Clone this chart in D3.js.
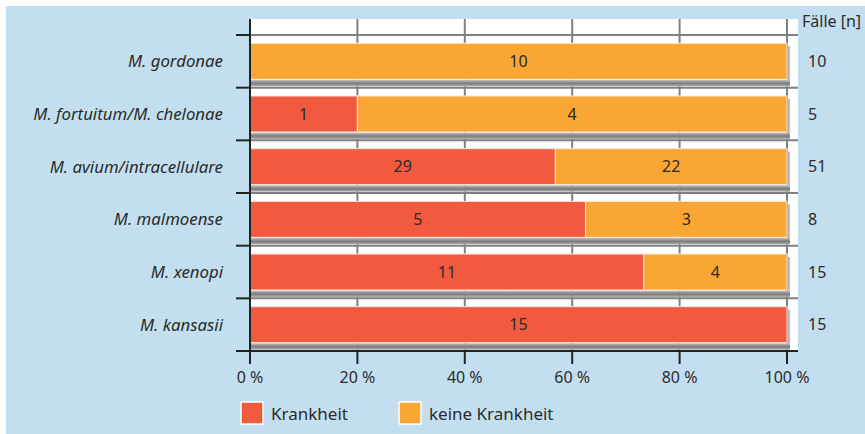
<!DOCTYPE html>
<html>
<head>
<meta charset="utf-8">
<script src="https://cdn.jsdelivr.net/npm/d3@7"></script>
<style>
  body { margin: 0; background: #fff; }
  text { font-family: 'Noto Sans', sans-serif; fill: #2b2b2b; }
  .cat { font-style: italic; font-size: 16.8px; }
  .num { font-size: 16px; }
  .tick-label { font-size: 16px; }
  .legend-label { font-size: 17px; }
</style>
</head>
<body>
<div id="container"></div>
<script>
const w = 865,
  h = 434;

const categories = [
  'M. gordonae',
  'M. fortuitum/M. chelonae',
  'M. avium/intracellulare',
  'M. malmoense',
  'M. xenopi',
  'M. kansasii'
];
const krankheit = [0, 1, 29, 5, 11, 15];
const keineKrankheit = [10, 4, 22, 3, 4, 0];
const faelle = [10, 5, 51, 8, 15, 15];
const xTicks = [0, 20, 40, 60, 80, 100];
const seriesNames = ['Krankheit', 'keine Krankheit'];
const colors = ['#f25a3f', '#f9a633'];

const svg = d3.select('#container').append('svg').attr('width', w).attr('height', h);

// shadow gradients
const defs = svg.append('defs');
const gBottom = defs.append('linearGradient').attr('id', 'shadowBottom')
  .attr('x1', 0).attr('y1', 0).attr('x2', 0).attr('y2', 1);
gBottom.append('stop').attr('offset', 0).attr('stop-color', '#c4c4c4');
gBottom.append('stop').attr('offset', 0.55).attr('stop-color', '#7a7a7a');
gBottom.append('stop').attr('offset', 1).attr('stop-color', '#b0b0b0');
const gRight = defs.append('linearGradient').attr('id', 'shadowRight')
  .attr('x1', 0).attr('y1', 0).attr('x2', 1).attr('y2', 0);
gRight.append('stop').attr('offset', 0).attr('stop-color', '#9a9a9a');
gRight.append('stop').attr('offset', 1).attr('stop-color', '#e0e0e0');

// background panel
svg.append('rect').attr('x', 6).attr('y', 6).attr('width', w - 6).attr('height', h - 6)
  .attr('fill', '#c3dfef');

const x = d3.scaleLinear().domain([0, 100]).range([250, 787]);
const y = d3.scaleBand().domain(categories).range([35, 351])
  .paddingInner(0.3165).paddingOuter(0.158);

// plot area
svg.append('rect').attr('x', 250).attr('y', 19).attr('width', 548).attr('height', 332)
  .attr('fill', '#fff');

// vertical grid lines
svg.append('g').selectAll('line').data(xTicks.slice(1)).enter().append('line')
  .attr('x1', (d) => x(d)).attr('x2', (d) => x(d))
  .attr('y1', 19).attr('y2', 351)
  .attr('stroke', '#808080').attr('stroke-width', 2);

// horizontal boundaries between categories
const bounds = d3.range(categories.length + 1).map((i) => y.range()[0] + i * y.step());
svg.append('g').selectAll('line').data(bounds.slice(0, -1)).enter().append('line')
  .attr('x1', 250).attr('x2', 798)
  .attr('y1', (d) => d).attr('y2', (d) => d)
  .attr('stroke', '#808080').attr('stroke-width', 2);
svg.append('g').selectAll('line').data(bounds).enter().append('line')
  .attr('x1', 236).attr('x2', 250)
  .attr('y1', (d) => d).attr('y2', (d) => d)
  .attr('stroke', '#222').attr('stroke-width', 2);

// bars
const rows = categories.map((c, i) => {
  const total = krankheit[i] + keineKrankheit[i];
  return {
    cat: c,
    segs: [
      { v: krankheit[i], x0: 0, x1: (krankheit[i] / total) * 100, s: 0 },
      { v: keineKrankheit[i], x0: (krankheit[i] / total) * 100, x1: 100, s: 1 }
    ].filter((s) => s.v > 0)
  };
});

const shadowG = svg.append('g');
shadowG.selectAll('rect.sb').data(rows).enter().append('rect')
  .attr('x', x(0) + 1).attr('y', (d) => y(d.cat) + y.bandwidth() + 0.5)
  .attr('width', x(100) - x(0) + 2).attr('height', 6.5)
  .attr('fill', 'url(#shadowBottom)');
shadowG.selectAll('rect.sr').data(rows).enter().append('rect')
  .attr('x', x(100) + 0.5).attr('y', (d) => y(d.cat) + 3)
  .attr('width', 3).attr('height', y.bandwidth() - 2.5)
  .attr('fill', 'url(#shadowRight)');

const rowG = svg.append('g').selectAll('g').data(rows).enter().append('g');
rowG.selectAll('rect').data((d) => d.segs.map((s) => ({ ...s, cat: d.cat }))).enter().append('rect')
  .attr('x', (d) => x(d.x0)).attr('y', (d) => y(d.cat))
  .attr('width', (d) => x(d.x1) - x(d.x0)).attr('height', y.bandwidth())
  .attr('fill', (d) => colors[d.s])
  .attr('stroke', '#fde9df').attr('stroke-width', 1);
rowG.selectAll('text').data((d) => d.segs.map((s) => ({ ...s, cat: d.cat }))).enter().append('text')
  .attr('class', 'num')
  .attr('x', (d) => x((d.x0 + d.x1) / 2)).attr('y', (d) => y(d.cat) + y.bandwidth() / 2)
  .attr('dy', '0.36em').attr('text-anchor', 'middle')
  .text((d) => d.v);

// axes lines
svg.append('line').attr('x1', 250).attr('x2', 250).attr('y1', 19).attr('y2', 352)
  .attr('stroke', '#222').attr('stroke-width', 2);
svg.append('line').attr('x1', 249).attr('x2', 798).attr('y1', 351).attr('y2', 351)
  .attr('stroke', '#222').attr('stroke-width', 2);
svg.append('g').selectAll('line').data(xTicks).enter().append('line')
  .attr('x1', (d) => x(d)).attr('x2', (d) => x(d))
  .attr('y1', 351).attr('y2', 364)
  .attr('stroke', '#222').attr('stroke-width', 2);
svg.append('g').selectAll('text').data(xTicks).enter().append('text')
  .attr('class', 'tick-label')
  .attr('x', (d) => x(d)).attr('y', 383).attr('text-anchor', 'middle')
  .text((d) => d + ' %');

// category labels
svg.append('g').selectAll('text').data(categories).enter().append('text')
  .attr('class', 'cat')
  .attr('x', 223).attr('y', (d) => y(d) + y.bandwidth() / 2).attr('dy', '0.36em')
  .attr('text-anchor', 'end')
  .text((d) => d);

// case counts
svg.append('text').attr('class', 'num').attr('x', 802).attr('y', 27).text('Fälle [n]');
svg.append('g').selectAll('text').data(faelle).enter().append('text')
  .attr('class', 'num')
  .attr('x', 808).attr('y', (d, i) => y(categories[i]) + y.bandwidth() / 2).attr('dy', '0.36em')
  .text((d) => d);

// legend
const legend = svg.append('g').selectAll('g').data(seriesNames).enter().append('g')
  .attr('transform', (d, i) => 'translate(' + (i === 0 ? 241 : 399) + ', 402)');
legend.append('rect').attr('width', 22).attr('height', 22)
  .attr('fill', (d, i) => colors[i]).attr('stroke', '#fff').attr('stroke-width', 1.5);
legend.append('text').attr('class', 'legend-label').attr('x', 30).attr('y', 18).text((d) => d);
</script>
</body>
</html>
